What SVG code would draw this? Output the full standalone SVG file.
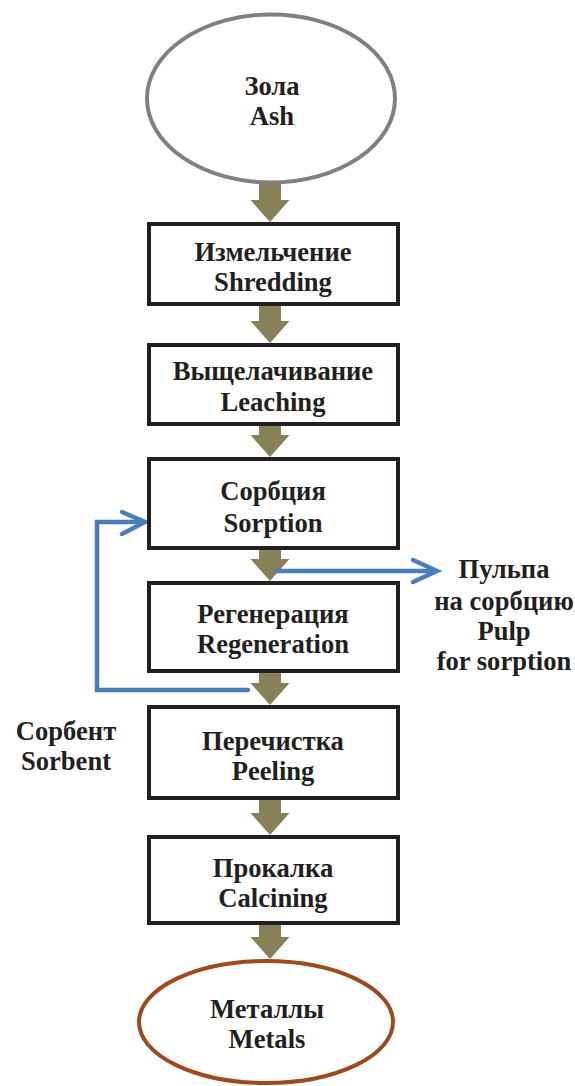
<svg xmlns="http://www.w3.org/2000/svg" width="575" height="1086" viewBox="0 0 575 1086">
<style>
.box{fill:#fff;stroke:#231f20;stroke-width:4}
.t{font-family:'Liberation Serif','Times New Roman',serif;font-weight:bold;font-size:26.6px;fill:#231f20;text-anchor:middle}
.arr{fill:#878157}
.blue{fill:none;stroke:#4a7ebb;stroke-width:4.5;stroke-linecap:round;stroke-linejoin:miter}
</style>
<defs>
<path id="da" d="M-11,0 H11 V16 H19.5 L0,38 L-19.5,16 H-11 Z"/>
</defs>
<g id="connectors">
<use href="#da" class="arr" x="270" y="184"/>
<use href="#da" class="arr" x="270" y="305"/>
<use href="#da" class="arr" x="270" y="419"/>
<use href="#da" class="arr" x="270" y="543"/>
<use href="#da" class="arr" x="270" y="667"/>
<use href="#da" class="arr" x="270" y="797"/>
<use href="#da" class="arr" x="270" y="921"/>
<path class="blue" d="M248,690 H97 V522 H144"/>
<path class="blue" d="M122,512 L145,522 L122,534"/>
<path class="blue" d="M277,571 H436"/>
<path class="blue" d="M413,560 L437,571 L413,582"/>
</g>
<g id="ash">
<ellipse cx="271" cy="98.5" rx="124" ry="84" fill="#fff" stroke="#808080" stroke-width="4"/>
<text class="t" x="272" y="95">Зола</text>
<text class="t" x="272" y="125">Ash</text>
</g>
<g id="shredding">
<rect class="box" x="149" y="224" width="249" height="80"/>
<text class="t" x="273" y="261">Измельчение</text>
<text class="t" x="273" y="291">Shredding</text>
</g>
<g id="leaching">
<rect class="box" x="149" y="345" width="249" height="79"/>
<text class="t" x="273" y="380">Выщелачивание</text>
<text class="t" x="273" y="411">Leaching</text>
</g>
<g id="sorption">
<rect class="box" x="149" y="459" width="249" height="89"/>
<text class="t" x="273" y="500">Сорбция</text>
<text class="t" x="273" y="532">Sorption</text>
</g>
<g id="regeneration">
<rect class="box" x="149" y="583" width="249" height="88"/>
<text class="t" x="273" y="623">Регенерация</text>
<text class="t" x="273" y="653">Regeneration</text>
</g>
<g id="peeling">
<rect class="box" x="149" y="707" width="249" height="91"/>
<text class="t" x="273" y="750">Перечистка</text>
<text class="t" x="273" y="780">Peeling</text>
</g>
<g id="calcining">
<rect class="box" x="149" y="837" width="249" height="86"/>
<text class="t" x="273" y="877">Прокалка</text>
<text class="t" x="273" y="907">Calcining</text>
</g>
<g id="metals">
<ellipse cx="266" cy="1022" rx="127" ry="61" fill="#fff" stroke="#9c4a1e" stroke-width="4"/>
<text class="t" x="267" y="1018">Металлы</text>
<text class="t" x="267" y="1048">Metals</text>
</g>
<g id="pulp">
<text class="t" x="504" y="578">Пульпа</text>
<text class="t" x="504" y="610">на сорбцию</text>
<text class="t" x="504" y="640">Pulp</text>
<text class="t" x="504" y="670">for sorption</text>
</g>
<g id="sorbent">
<text class="t" x="66" y="740">Сорбент</text>
<text class="t" x="66" y="770">Sorbent</text>
</g>
</svg>
